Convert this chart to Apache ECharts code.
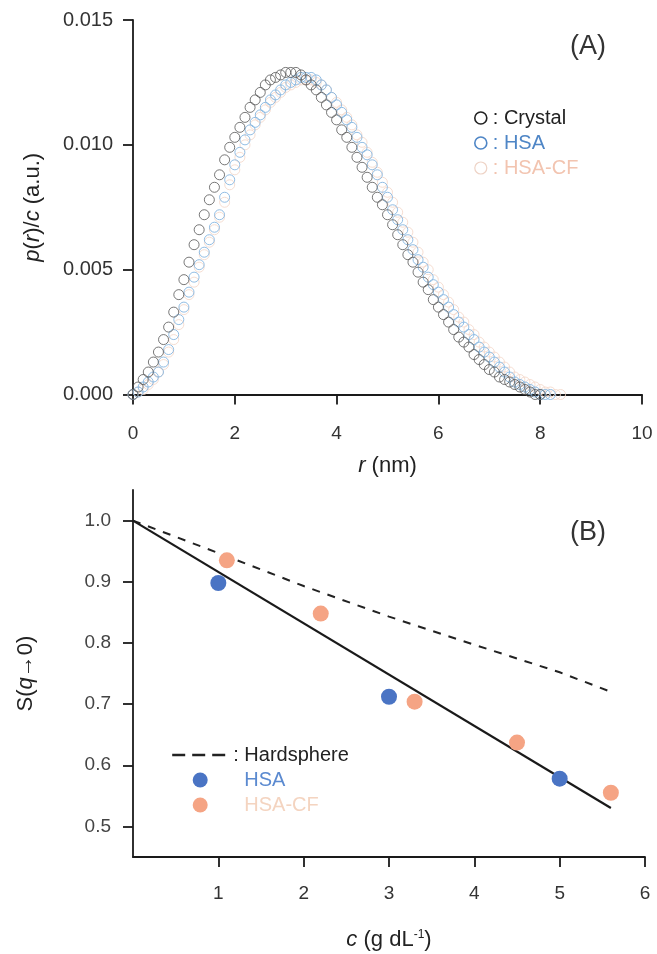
<!DOCTYPE html>
<html>
<head>
<meta charset="utf-8">
<script src="https://cdn.jsdelivr.net/npm/echarts@6/dist/echarts.min.js"></script>
<style>
  html, body { margin: 0; padding: 0; background: #fff; }
  #chart { width: 657px; height: 954px; }
</style>
</head>
<body>
<div id="chart"></div>
<script>
// (A) pair distance distribution, r in nm
const rNm = [0.0, 0.1, 0.2, 0.3, 0.4, 0.5, 0.6, 0.7, 0.8, 0.9,
  1.0, 1.1, 1.2, 1.3, 1.4, 1.5, 1.6, 1.7, 1.8, 1.9,
  2.0, 2.1, 2.2, 2.3, 2.4, 2.5, 2.6, 2.7, 2.8, 2.9,
  3.0, 3.1, 3.2, 3.3, 3.4, 3.5, 3.6, 3.7, 3.8, 3.9,
  4.0, 4.1, 4.2, 4.3, 4.4, 4.5, 4.6, 4.7, 4.8, 4.9,
  5.0, 5.1, 5.2, 5.3, 5.4, 5.5, 5.6, 5.7, 5.8, 5.9,
  6.0, 6.1, 6.2, 6.3, 6.4, 6.5, 6.6, 6.7, 6.8, 6.9,
  7.0, 7.1, 7.2, 7.3, 7.4, 7.5, 7.6, 7.7, 7.8, 7.9,
  8.0, 8.1, 8.2, 8.3, 8.4]

const crystalP = [0.0000, 0.0003, 0.0006, 0.0009, 0.0013, 0.0017, 0.0022, 0.0027, 0.0033, 0.0040,
  0.0046, 0.0053, 0.0060, 0.0066, 0.0072, 0.0078, 0.0083, 0.0088, 0.0094, 0.0099,
  0.0103, 0.0107, 0.0111, 0.0115, 0.0118, 0.0121, 0.0124, 0.0126, 0.0127, 0.0128,
  0.0129, 0.0129, 0.0129, 0.0128, 0.0126, 0.0124, 0.0122, 0.0119, 0.0116, 0.0113,
  0.0110, 0.0106, 0.0103, 0.0099, 0.0095, 0.0091, 0.0087, 0.0083, 0.0079, 0.0076,
  0.0072, 0.0068, 0.0064, 0.0060, 0.0056, 0.0053, 0.0049, 0.0045, 0.0042, 0.0038,
  0.0035, 0.0032, 0.0029, 0.0026, 0.0023, 0.0021, 0.0019, 0.0016, 0.0014, 0.0012,
  0.0010, 0.0009, 0.0007, 0.0006, 0.0005, 0.0004, 0.0003, 0.0002, 0.0001, 0.0000,
  0.0000]

const hsaP = [0.0000, 0.0001, 0.0003, 0.0005, 0.0007, 0.0009, 0.0013, 0.0018, 0.0024, 0.0030,
  0.0035, 0.0041, 0.0047, 0.0052, 0.0057, 0.0062, 0.0067, 0.0072, 0.0079, 0.0086,
  0.0092, 0.0097, 0.0102, 0.0106, 0.0109, 0.0112, 0.0115, 0.0118, 0.0120, 0.0122,
  0.0124, 0.0125, 0.0126, 0.0127, 0.0127, 0.0127, 0.0126, 0.0124, 0.0122, 0.0119,
  0.0116, 0.0113, 0.0110, 0.0107, 0.0103, 0.0099, 0.0096, 0.0092, 0.0088, 0.0083,
  0.0079, 0.0074, 0.0070, 0.0066, 0.0062, 0.0058, 0.0054, 0.0051, 0.0047, 0.0044,
  0.0041, 0.0038, 0.0035, 0.0032, 0.0029, 0.0027, 0.0024, 0.0022, 0.0019, 0.0017,
  0.0015, 0.0013, 0.0011, 0.0009, 0.0007, 0.0005, 0.0004, 0.0003, 0.0002, 0.0001,
  0.0000, 0.0000, 0.0000]

const hsaCfP = [0.0000, 0.0001, 0.0002, 0.0004, 0.0006, 0.0009, 0.0012, 0.0017, 0.0022, 0.0028,
  0.0034, 0.0040, 0.0045, 0.0051, 0.0056, 0.0061, 0.0066, 0.0071, 0.0077, 0.0084,
  0.0090, 0.0095, 0.0100, 0.0104, 0.0108, 0.0111, 0.0114, 0.0117, 0.0119, 0.0121,
  0.0123, 0.0124, 0.0125, 0.0126, 0.0126, 0.0126, 0.0125, 0.0124, 0.0122, 0.0119,
  0.0117, 0.0114, 0.0111, 0.0108, 0.0104, 0.0101, 0.0097, 0.0093, 0.0089, 0.0085,
  0.0081, 0.0077, 0.0073, 0.0069, 0.0065, 0.0061, 0.0057, 0.0053, 0.0050, 0.0046,
  0.0043, 0.0040, 0.0037, 0.0034, 0.0031, 0.0029, 0.0026, 0.0024, 0.0021, 0.0019,
  0.0017, 0.0015, 0.0013, 0.0011, 0.0009, 0.0007, 0.0006, 0.0005, 0.0004, 0.0003,
  0.0002, 0.0001, 0.0001, 0.0000, 0.0000]

// (B) S(q->0) vs concentration, g/dL
const hsaConc = [1, 3, 5]
const hsaS = [0.898, 0.712, 0.578]
const cfConc = [1.1, 2.2, 3.3, 4.5, 5.6]
const cfS = [0.935, 0.848, 0.704, 0.637, 0.555]
const fitConc = [0, 5.6]
const fitS = [1.0, 0.53]
const hardConc = [0, 1, 2, 3, 4, 5, 5.6]
const hardS = [1.0, 0.947, 0.893, 0.843, 0.797, 0.752, 0.72]

const FONT = 'Liberation Sans, Arial, sans-serif'
const AXIS_COLOR = '#1a1a1a'
const LABEL_COLOR = '#333'

function pairs(xs, ys) {
  return ys.map((y, i) => [xs[i], y])
}

function axisBase() {
  return {
    axisLine: { onZero: false, lineStyle: { color: AXIS_COLOR, width: 1.8 } },
    axisTick: { length: 10, lineStyle: { color: AXIS_COLOR, width: 1.8 } },
    splitLine: { show: false }
  }
}

const chart = echarts.init(document.getElementById('chart'), null, { renderer: 'canvas' })

chart.setOption({
  animation: false,
  backgroundColor: '#fff',
  grid: [
    { left: 133, top: 20, width: 509, height: 374.5 },
    { left: 133, top: 490, width: 512, height: 367 }
  ],
  xAxis: [
    Object.assign(axisBase(), {
      gridIndex: 0,
      type: 'value',
      min: 0,
      max: 10,
      interval: 2,
      axisLabel: { margin: 30, fontSize: 19, color: LABEL_COLOR, fontFamily: FONT },
      name: '{i|r} (nm)',
      nameLocation: 'middle',
      nameGap: 60,
      nameTextStyle: {
        fontSize: 22, color: '#222', fontFamily: FONT,
        rich: { i: { fontStyle: 'italic', fontSize: 22, color: '#222', fontFamily: FONT } }
      }
    }),
    Object.assign(axisBase(), {
      gridIndex: 1,
      type: 'value',
      min: 0,
      max: 6,
      interval: 1,
      axisLabel: { margin: 27, fontSize: 19, color: LABEL_COLOR, fontFamily: FONT, showMinLabel: false },
      name: '{i|c} (g dL{sup|-1})',
      nameLocation: 'middle',
      nameGap: 72,
      nameTextStyle: {
        fontSize: 22, color: '#222', fontFamily: FONT,
        rich: {
          i: { fontStyle: 'italic', fontSize: 22, color: '#222', fontFamily: FONT },
          sup: { fontSize: 12, color: '#222', fontFamily: FONT, verticalAlign: 'top', padding: [0, 0, 10, 0] }
        }
      }
    })
  ],
  yAxis: [
    Object.assign(axisBase(), {
      gridIndex: 0,
      type: 'value',
      min: 0,
      max: 0.015,
      interval: 0.005,
      axisLabel: { margin: 20, fontSize: 20, color: LABEL_COLOR, fontFamily: FONT, formatter: v => v.toFixed(3) },
      name: '{i|p}({i|r})/{i|c} (a.u.)',
      nameLocation: 'middle',
      nameGap: 89,
      nameTextStyle: {
        fontSize: 22, color: '#222', fontFamily: FONT,
        rich: { i: { fontStyle: 'italic', fontSize: 22, color: '#222', fontFamily: FONT } }
      }
    }),
    Object.assign(axisBase(), {
      gridIndex: 1,
      type: 'value',
      min: 0.45,
      max: 1.05,
      axisTick: {
        length: 10, lineStyle: { color: AXIS_COLOR, width: 1.8 },
        customValues: [0.5, 0.6, 0.7, 0.8, 0.9, 1.0]
      },
      axisLabel: {
        margin: 22, fontSize: 19, color: '#444', fontFamily: FONT,
        customValues: [0.5, 0.6, 0.7, 0.8, 0.9, 1.0],
        formatter: v => v.toFixed(1)
      },
      name: 'S({i|q}\u21920)',
      nameLocation: 'middle',
      nameGap: 96,
      nameTextStyle: {
        fontSize: 22, color: '#222', fontFamily: FONT,
        rich: { i: { fontStyle: 'italic', fontSize: 22, color: '#222', fontFamily: FONT } }
      }
    })
  ],
  legend: [
    {
      orient: 'vertical',
      left: 469,
      top: 103,
      itemWidth: 12,
      itemHeight: 13,
      itemGap: 5,
      textStyle: { fontSize: 20, fontFamily: FONT, padding: [0, 0, 0, 1] },
      formatter: name => ': ' + name,
      data: [
        { name: 'Crystal', itemStyle: { borderColor: '#222', borderWidth: 1.6 }, textStyle: { color: '#222' } },
        { name: 'HSA', itemStyle: { borderColor: '#4f86c6', borderWidth: 1.6 }, textStyle: { color: '#4f86c6' } },
        { name: 'HSA-CF', itemStyle: { borderColor: '#eed3c6', borderWidth: 1.2 }, textStyle: { color: '#f2c4b0' } }
      ]
    },
    {
      orient: 'vertical',
      left: 166,
      top: 740,
      itemWidth: 56,
      itemHeight: 15,
      itemGap: 5,
      textStyle: { fontSize: 20, fontFamily: FONT },
      data: [
        {
          name: 'Hardsphere',
          itemStyle: { color: 'rgba(0,0,0,0)', borderWidth: 0 },
          lineStyle: { type: [13, 7], width: 2.4, color: '#222' },
          textStyle: { color: '#222' }
        },
        { name: 'HSA ', icon: 'circle', textStyle: { color: '#5b8ad0' } },
        { name: 'HSA-CF ', icon: 'circle', textStyle: { color: '#f4d4c0' } }
      ],
      formatter: name => (name === 'Hardsphere' ? ': ' : '  ') + name.trim()
    }
  ],
  series: [
    {
      name: 'HSA-CF',
      type: 'scatter',
      xAxisIndex: 0,
      yAxisIndex: 0,
      symbol: 'circle',
      symbolSize: 10,
      itemStyle: { color: 'rgba(0,0,0,0)', borderColor: '#f4d9cc', borderWidth: 0.9, opacity: 1 },
      data: pairs(rNm, hsaCfP)
    },
    {
      name: 'HSA',
      type: 'scatter',
      xAxisIndex: 0,
      yAxisIndex: 0,
      symbol: 'circle',
      symbolSize: 10,
      itemStyle: { color: 'rgba(0,0,0,0)', borderColor: '#86b6e0', borderWidth: 0.9, opacity: 1 },
      data: pairs(rNm, hsaP)
    },
    {
      name: 'Crystal',
      type: 'scatter',
      xAxisIndex: 0,
      yAxisIndex: 0,
      symbol: 'circle',
      symbolSize: 10,
      itemStyle: { color: 'rgba(0,0,0,0)', borderColor: '#555', borderWidth: 0.8, opacity: 1 },
      data: pairs(rNm, crystalP)
    },
    {
      name: 'Hardsphere',
      type: 'line',
      xAxisIndex: 1,
      yAxisIndex: 1,
      symbol: 'none',
      lineStyle: { color: '#222', width: 2, type: [8, 8] },
      data: pairs(hardConc, hardS)
    },
    {
      name: 'fit',
      type: 'line',
      xAxisIndex: 1,
      yAxisIndex: 1,
      symbol: 'none',
      lineStyle: { color: '#1a1a1a', width: 2.2 },
      data: pairs(fitConc, fitS)
    },
    {
      name: 'HSA ',
      type: 'scatter',
      xAxisIndex: 1,
      yAxisIndex: 1,
      symbolSize: 16,
      z: 5,
      itemStyle: { color: '#4a74c4', opacity: 1 },
      data: pairs(hsaConc, hsaS)
    },
    {
      name: 'HSA-CF ',
      type: 'scatter',
      xAxisIndex: 1,
      yAxisIndex: 1,
      symbolSize: 16,
      z: 5,
      itemStyle: { color: '#f5a484', opacity: 1 },
      data: pairs(cfConc, cfS)
    }
  ],
  graphic: [
    { type: 'text', left: 570, top: 33, style: { text: '(A)', fontSize: 27, fill: '#333', fontFamily: FONT } },
    { type: 'text', left: 570, top: 519, style: { text: '(B)', fontSize: 27, fill: '#333', fontFamily: FONT } }
  ]
})
</script>
</body>
</html>
